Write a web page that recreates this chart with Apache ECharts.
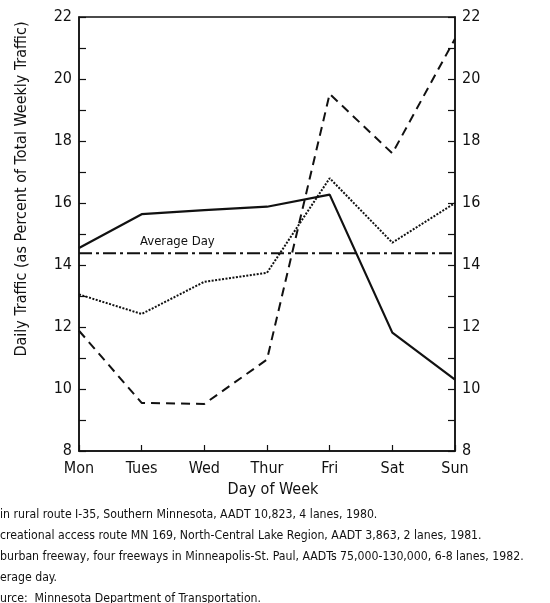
<!doctype html>
<html>

<head>
	<meta charset="utf-8">
	<title></title>
	<script type="text/javascript" src="https://cdn.jsdelivr.net/npm/echarts@6/dist/echarts.min.js"></script>
	<style>
		body { margin: 0; background: #fff; }
	</style>
</head>

<body>
	<div id="main" style="width: 550px;height:603px;"></div>
	<script type="text/javascript">
		var days = ['Mon', 'Tues', 'Wed', 'Thur', 'Fri', 'Sat', 'Sun'];
		var rural = [14.55, 15.64, 15.77, 15.88, 16.27, 11.82, 10.3];
		var recreational = [11.88, 9.55, 9.52, 10.95, 19.52, 17.6, 21.3];
		var suburban = [13.05, 12.42, 13.46, 13.75, 16.8, 14.72, 16.0];
		var averageDay = [14.38, 14.38, 14.38, 14.38, 14.38, 14.38, 14.38];
		var notes = [
			'in rural route I-35, Southern Minnesota, AADT 10,823, 4 lanes, 1980.',
			'creational access route MN 169, North-Central Lake Region, AADT 3,863, 2 lanes, 1981.',
			'burban freeway, four freeways in Minneapolis-St. Paul, AADTs 75,000-130,000, 6-8 lanes, 1982.',
			'erage day.',
			'urce:  Minnesota Department of Transportation.'
		];

		var font = '"DejaVu Sans Condensed", "Liberation Sans", sans-serif';
		var myChart = echarts.init(document.getElementById('main'));

		function yAx(pos) {
			return {
				type: 'value',
				position: pos,
				min: 8,
				max: 22,
				interval: 2,
				axisLine: { show: true, lineStyle: { color: '#111', width: 1.5 } },
				axisTick: { show: true, inside: true, length: 7, lineStyle: { color: '#111', width: 1.2 } },
				minorTick: { show: true, splitNumber: 2, length: 7, lineStyle: { color: '#111', width: 1.2 } },
				splitLine: { show: false },
				axisLabel: { color: '#111', fontSize: 16, fontFamily: font, margin: 7 }
			};
		}

		var line = function (data, dash, width) {
			return {
				type: 'line',
				data: data,
				symbol: 'none',
				silent: true,
				lineStyle: { color: '#111', width: width, type: dash }
			};
		};

		var graphics = [{
			type: 'text',
			x: 22,
			y: 189,
			rotation: Math.PI / 2,
			style: {
				text: 'Daily Traffic (as Percent of Total Weekly Traffic)',
				fill: '#111',
				font: '16px ' + font,
				align: 'center',
				verticalAlign: 'middle'
			}
		}, {
			type: 'text',
			x: 140,
			y: 242,
			style: {
				text: 'Average Day',
				fill: '#111',
				font: '13px ' + font,
				verticalAlign: 'middle'
			}
		}];
		notes.forEach(function (t, i) {
			graphics.push({
				type: 'text',
				x: 0,
				y: 515 + i * 21,
				style: { text: t, fill: '#111', font: '12.2px ' + font, verticalAlign: 'middle' }
			});
		});

		option = {
			animation: false,
			backgroundColor: '#fff',
			grid: {
				left: 79, right: 95, top: 17, bottom: 152,
				show: true, borderColor: '#111', borderWidth: 1.5
			},
			xAxis: {
				type: 'category',
				data: days,
				boundaryGap: false,
				axisLine: { lineStyle: { color: '#111', width: 1.5 } },
				axisTick: { inside: true, length: 6, lineStyle: { color: '#111', width: 1.2 } },
				axisLabel: { color: '#111', fontSize: 16, fontFamily: font, margin: 10 },
				name: 'Day of Week',
				nameLocation: 'middle',
				nameGap: 31,
				nameTextStyle: { color: '#111', fontSize: 16, fontFamily: font, padding: [0, 0, 0, 12] }
			},
			yAxis: [yAx('left'), yAx('right')],
			graphic: graphics,
			series: [
				line(rural, 'solid', 2.2),
				line(recreational, [9, 6], 2),
				line(suburban, [2, 1.5], 2),
				line(averageDay, [13, 4, 3, 4], 2)
			]
		};

		myChart.setOption(option);
	</script>
</body>

</html>
